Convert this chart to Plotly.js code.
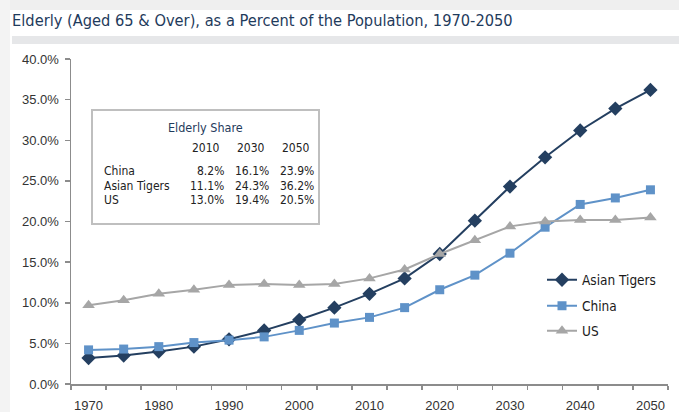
<!DOCTYPE html>
<html>
<head>
<meta charset="utf-8">
<script src="https://cdn.plot.ly/plotly-3.0.1.min.js"></script>
<style>html,body{margin:0;padding:0;background:#fff;}#chart{width:679px;height:412px;}</style>
</head>
<body>
<div id="chart"></div>
<script>
// ---- Data ----
const years = [1970, 1975, 1980, 1985, 1990, 1995, 2000, 2005, 2010, 2015, 2020, 2025, 2030, 2035, 2040, 2045, 2050];
const asianTigers = [3.2, 3.5, 4.0, 4.6, 5.5, 6.6, 7.9, 9.4, 11.1, 13.0, 16.0, 20.1, 24.3, 27.9, 31.2, 33.9, 36.2];
const china = [4.2, 4.3, 4.6, 5.1, 5.4, 5.8, 6.6, 7.5, 8.2, 9.4, 11.6, 13.4, 16.1, 19.3, 22.1, 22.9, 23.9];
const us = [9.7, 10.3, 11.1, 11.6, 12.2, 12.3, 12.2, 12.3, 13.0, 14.1, 16.0, 17.7, 19.4, 20.0, 20.2, 20.2, 20.5];
const xTickYears = [1970, 1980, 1990, 2000, 2010, 2020, 2030, 2040, 2050];
const yTicks = [0, 5, 10, 15, 20, 25, 30, 35, 40];

const tableTitle = 'Elderly Share';
const tableYears = ['2010', '2030', '2050'];
const tableRows = ['China', 'Asian Tigers', 'US'];
const tableChina = ['8.2%', '16.1%', '23.9%'];
const tableTigers = ['11.1%', '24.3%', '36.2%'];
const tableUS = ['13.0%', '19.4%', '20.5%'];

// ---- Layout helpers (pixel -> paper) ----
const W = 679, H = 412, ML = 71, MR = 11, MT = 59, MB = 28;
const PW = W - ML - MR, PH = H - MT - MB;
const px = x => (x - ML) / PW;
const py = y => (H - MB - y) / PH;

const navy = '#243F60', lblue = '#5F92C8', gray = '#A6A6A6';
const narrow = '"DejaVu Sans Condensed", "Liberation Sans Narrow", Arial, sans-serif';
const sans = '"Liberation Sans", Arial, sans-serif';

const traces = [
  {x: years, y: asianTigers, name: 'Asian Tigers', mode: 'lines+markers', legend: 'legend',
   line: {color: navy, width: 2}, marker: {symbol: 'diamond', size: 11, color: navy}},
  {x: years, y: china, name: 'China', mode: 'lines+markers', legend: 'legend2',
   line: {color: lblue, width: 2}, marker: {symbol: 'square', size: 9, color: lblue}},
  {x: years, y: us, name: 'US', mode: 'lines+markers', legend: 'legend3',
   line: {color: gray, width: 2}, marker: {symbol: 'triangle-up', size: 11, color: gray}}
];

// table annotations
const annotations = [];
annotations.push({xref: 'paper', yref: 'paper', x: px(205), y: py(127), text: tableTitle, showarrow: false,
  xanchor: 'center', yanchor: 'middle', font: {family: narrow, size: 12.5, color: '#1F3B5C'}});
const colRight = [226, 271, 316];
const headRight = [222, 267, 312];
tableYears.forEach((t, i) => annotations.push({xref: 'paper', yref: 'paper', x: px(headRight[i]), y: py(148),
  text: t, showarrow: false, xanchor: 'right', yanchor: 'middle', font: {family: narrow, size: 12, color: '#222'}}));
const rowY = [171, 186, 200];
const rowVals = [tableChina, tableTigers, tableUS];
tableRows.forEach((r, j) => {
  annotations.push({xref: 'paper', yref: 'paper', x: px(102), y: py(rowY[j]), text: r, showarrow: false,
    xanchor: 'left', yanchor: 'middle', font: {family: narrow, size: 12, color: '#222'}});
  rowVals[j].forEach((v, i) => annotations.push({xref: 'paper', yref: 'paper', x: px(colRight[i]), y: py(rowY[j]),
    text: v, showarrow: false, xanchor: 'right', yanchor: 'middle', font: {family: narrow, size: 12, color: '#222'}}));
});

const shapes = [
  {type: 'rect', xref: 'paper', yref: 'paper', x0: px(0), x1: px(W), y0: py(0), y1: py(10), fillcolor: '#efefef', line: {width: 0}, layer: 'below'},
  {type: 'rect', xref: 'paper', yref: 'paper', x0: px(0), x1: px(10), y0: py(0), y1: py(H), fillcolor: '#f3f3f3', line: {width: 0}, layer: 'below'},
  {type: 'rect', xref: 'paper', yref: 'paper', x0: px(12), x1: px(W), y0: py(36), y1: py(44), fillcolor: '#e6e7e9', line: {width: 0}, layer: 'below'},
  {type: 'rect', xref: 'paper', yref: 'paper', x0: px(92), x1: px(319), y0: py(110), y1: py(224), fillcolor: 'rgba(0,0,0,0)', line: {color: '#BFBFBF', width: 2}}
];

const legendBase = {xref: 'paper', yref: 'paper', xanchor: 'left', yanchor: 'middle', bgcolor: 'rgba(0,0,0,0)',
  font: {family: narrow, size: 13.5, color: '#1a1a1a'}, itemwidth: 30, tracegroupgap: 0};

const layout = {
  width: W, height: H,
  margin: {l: ML, r: MR, t: MT, b: MB, pad: 0},
  paper_bgcolor: '#ffffff', plot_bgcolor: '#ffffff',
  title: {text: 'Elderly (Aged 65 & Over), as a Percent of the Population, 1970-2050',
    xref: 'container', yref: 'container', x: 12 / W, xanchor: 'left', y: 1 - 20 / H, yanchor: 'middle',
    font: {family: narrow, size: 16.3, color: '#1F3B5C'}},
  showlegend: true,
  legend: Object.assign({}, legendBase, {x: px(542), y: py(280)}),
  legend2: Object.assign({}, legendBase, {x: px(542), y: py(306)}),
  legend3: Object.assign({}, legendBase, {x: px(542), y: py(331)}),
  xaxis: {
    type: 'linear', range: [1967.5, 2052.5], tickvals: xTickYears, ticktext: xTickYears.map(String),
    ticks: '', showgrid: false, zeroline: false, showline: true, linecolor: '#8C8C8C', linewidth: 1.5,
    tickfont: {family: sans, size: 13, color: '#333'}, fixedrange: true, ticklabelstandoff: 9,
    minor: {tick0: 1967.5, dtick: 5, ticks: 'outside', ticklen: 4, tickcolor: '#8C8C8C', tickwidth: 1.5, showgrid: false}
  },
  yaxis: {
    range: [0, 40], tickvals: yTicks, ticktext: yTicks.map(v => v.toFixed(1) + '%'),
    ticks: 'outside', ticklen: 5, tickcolor: '#8C8C8C', tickwidth: 1.5,
    showgrid: false, zeroline: false, showline: true, linecolor: '#8C8C8C', linewidth: 1.5,
    tickfont: {family: sans, size: 13, color: '#333'}, fixedrange: true, ticklabelstandoff: 3
  },
  annotations: annotations,
  shapes: shapes
};

Plotly.newPlot('chart', traces, layout, {displayModeBar: false, staticPlot: true});
</script>
</body>
</html>
